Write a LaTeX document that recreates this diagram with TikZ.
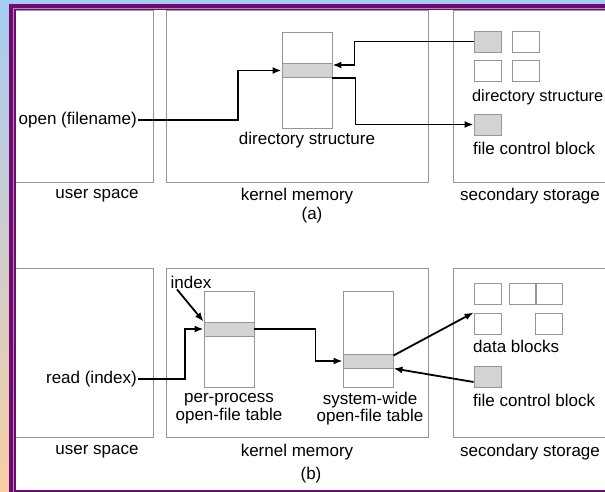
\documentclass[tikz,border=0pt]{standalone}
\usepackage{fontspec}
\setmainfont{Liberation Sans}
\usetikzlibrary{arrows.meta}

\definecolor{framepurple}{RGB}{110,10,112}
\definecolor{boxgray}{RGB}{150,150,150}
\definecolor{rowgray}{RGB}{212,212,212}
\definecolor{skyblue}{RGB}{166,204,242}
\definecolor{peach}{RGB}{247,206,164}

\tikzset{
  area/.style={draw=boxgray, line width=0.9pt, inner sep=0pt},
  tbl/.style={draw=boxgray, line width=0.9pt, minimum width=50pt, minimum height=96pt, inner sep=0pt},
  tblrow/.style={draw=boxgray, fill=rowgray, line width=0.9pt, minimum width=50pt, minimum height=14pt, inner sep=0pt},
  blk/.style={draw=boxgray, line width=0.9pt, minimum width=27pt, minimum height=21pt, inner sep=0pt},
  fblk/.style={blk, fill=rowgray},
  lbl/.style={font=\fontsize{17}{17.5}\selectfont, inner sep=1pt},
  flow/.style={-{Latex[length=9pt,width=7pt]}, line width=1.8pt},
}

\begin{document}
\begin{tikzpicture}[x=1pt, y=-1pt]
\useasboundingbox (0,0) rectangle (605,492);
\clip (0,0) rectangle (605,492);

% Drawing slide frame
\shade[top color=skyblue, bottom color=peach] (0,0) rectangle (605,492);
\fill[framepurple] (9,4) rectangle (640,492);
\fill[white] (15.5,10.5) rectangle (640,489.5);

% Drawing part (a)
\node[area, minimum width=141pt, minimum height=172pt] (userA) at (83,96) {};
\node[area, minimum width=262pt, minimum height=172pt] (kernA) at (297,96) {};
\node[area, minimum width=247pt, minimum height=172pt] (secA) at (576.5,96) {};
\node[lbl] (userAlbl) at (97,196) {user space};
\node[lbl] (kernAlbl) at (297,196) {kernel memory};
\node[lbl] (secAlbl) at (530,196) {secondary storage};
\node[lbl] (capA) at (312,215) {(a)};

\node[tbl] (dirtab) at (307,80) {};
\node[tblrow] (dirrow) at (307,70.5) {};
\node[lbl] (dirlbl) at (307,140) {directory structure};
\node[lbl, anchor=east] (openlbl) at (138,120) {open (filename)};

\node[fblk] (dirgray) at (487.5,41.5) {};
\node[blk] (dirb) at (526,41.5) {};
\node[blk] (dirc) at (487.5,70.5) {};
\node[blk] (dird) at (526,70.5) {};
\node[lbl, font=\fontsize{16.4}{17}\selectfont, anchor=east] (dirslbl) at (604.5,97) {directory structure};
\node[fblk] (fcbA) at (487.5,124.5) {};
\node[lbl, anchor=west] (fcbAlbl) at (472,148) {file control block};

\draw[flow] (openlbl.east) -- ++(100,0) |- (dirrow.west);
\draw[flow] (dirgray.west) -- ++(-119,0) |- ([yshift=5.5pt]dirrow.east);
\draw[flow] (dirrow.south east) -- ++(23,0) |- (fcbA.west);

% Drawing part (b)
\node[area, minimum width=141pt, minimum height=169pt] (userB) at (83,352.5) {};
\node[area, minimum width=262pt, minimum height=169pt] (kernB) at (297,352.5) {};
\node[area, minimum width=247pt, minimum height=169pt] (secB) at (576.5,352.5) {};
\node[lbl] (userBlbl) at (97,452) {user space};
\node[lbl] (kernBlbl) at (297,452) {kernel memory};
\node[lbl] (secBlbl) at (530,452) {secondary storage};
\node[lbl] (capB) at (311,475) {(b)};

\node[tbl] (pptab) at (229,339) {};
\node[tblrow] (pprow) at (229,329) {};
\node[lbl, align=center] (pplbl) at (229,408.5) {per-process\\open-file table};
\node[lbl] (idxlbl) at (191,282) {index};
\node[lbl, anchor=east] (readlbl) at (138,379) {read (index)};

\node[tbl] (swtab) at (368,339) {};
\node[tblrow] (swrow) at (368,361) {};
\node[lbl, align=center] (swlbl) at (370,408.5) {system-wide\\open-file table};

\node[blk] (dba) at (487.5,293.5) {};
\node[blk] (dbb) at (522.5,293.5) {};
\node[blk] (dbc) at (549,293.5) {};
\node[blk] (dbd) at (487.5,323.5) {};
\node[blk] (dbe) at (549,323.5) {};
\node[lbl, anchor=west] (dblbl) at (472,346) {data blocks};
\node[fblk] (fcbB) at (487.5,376.5) {};
\node[lbl, anchor=west] (fcbBlbl) at (472,400) {file control block};

\draw[flow] (readlbl.east) -- ++(47,0) |- (pprow.west);
\draw[flow] ([xshift=-14pt]idxlbl.south) -- (pprow.north west);
\draw[flow] (pprow.east) -- ++(61,0) |- (swrow.west);
\draw[flow] ([yshift=-2pt]swrow.north east) -- (dbd.north west);
\draw[flow] ([yshift=-5.5pt]fcbB.west) -- (swrow.south east);

% Drawing left frame edge over the boxes
\fill[framepurple] (9,4) rectangle (15.5,492);
\draw[white!50!framepurple, line width=0.5pt] (13.2,492) |- (640,8.7);
\end{tikzpicture}
\end{document}
